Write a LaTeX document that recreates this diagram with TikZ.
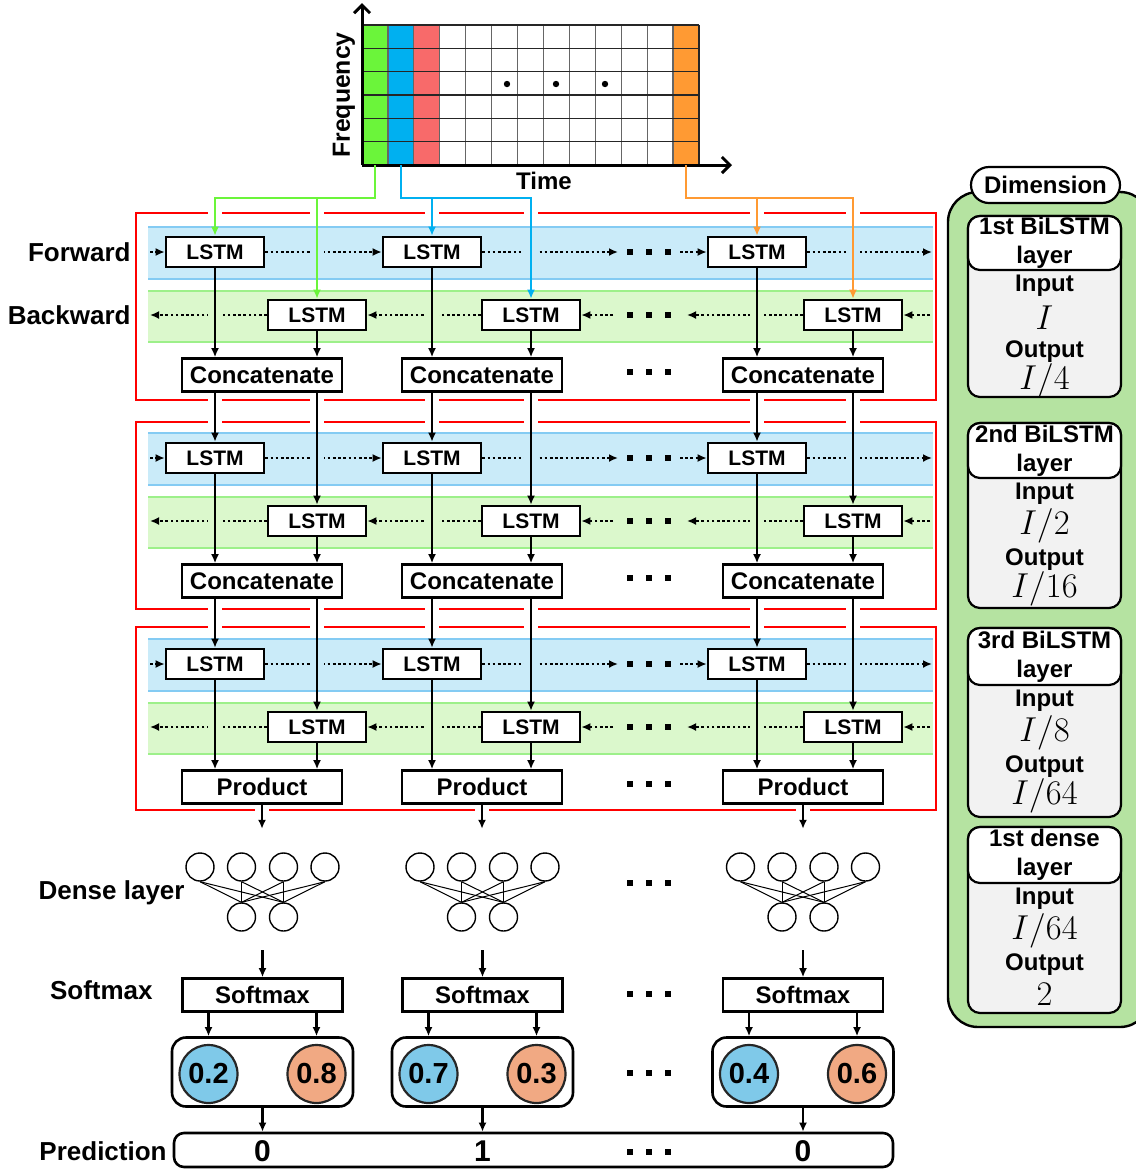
\documentclass[tikz,border=0pt]{standalone}
\usepackage[no-math]{fontspec}
\setmainfont{Liberation Sans}
\usetikzlibrary{arrows.meta,positioning,calc}
\definecolor{specgreen}{HTML}{6BF53A}
\definecolor{specblue}{HTML}{00B0F0}
\definecolor{specred}{HTML}{F86A6A}
\definecolor{specorange}{HTML}{FF9A33}
\definecolor{fwfill}{HTML}{CAEBF9}
\definecolor{fwline}{HTML}{84CBF3}
\definecolor{bwfill}{HTML}{DBF8CC}
\definecolor{bwline}{HTML}{9DF08A}
\definecolor{layerred}{HTML}{FF0000}
\definecolor{probblue}{HTML}{7FC9E9}
\definecolor{proborange}{HTML}{F1A983}
\definecolor{dimgreen}{HTML}{B5E3A1}
\definecolor{dimgray}{HTML}{F2F2F2}

% three black squares used as ellipsis
\newcommand{\blkdots}[1]{\foreach \dx in {630,649,668}{\fill (\dx-3,#1-3) rectangle (\dx+3,#1+3);}}

\begin{document}
\begin{tikzpicture}[
    x=0.5pt, y=-0.5pt,
    lstm/.style={draw, line width=1.3pt, fill=white, minimum width=49pt, minimum height=15pt,
      inner sep=0pt, font=\bfseries\fontsize{10.5}{12}\selectfont},
    opbox/.style={draw, line width=1.3pt, fill=white, minimum width=80pt, minimum height=16.5pt,
      inner sep=0pt, font=\bfseries\fontsize{12}{14}\selectfont},
    arr/.style={line width=1.1pt, -{Latex[length=4.5pt,width=4pt]}},
    dotarr/.style={line width=1.3pt, dash pattern=on 1.3pt off 1.3pt, -{Latex[length=4.5pt,width=4pt]}},
    feed/.style={line width=1.3pt, -{Latex[length=4.5pt,width=4pt]}},
    side/.style={anchor=east, inner sep=0pt, font=\bfseries\fontsize{13}{15}\selectfont},
    neuron/.style={circle, draw, line width=0.7pt, minimum size=14pt, inner sep=0pt},
    probbox/.style={draw, line width=1.3pt, rounded corners=7pt, minimum width=90.5pt, minimum height=34.5pt},
    prob/.style={circle, draw=black!85, line width=1.1pt, minimum size=29pt, inner sep=0pt,
      font=\bfseries\fontsize{14.5}{16}\selectfont},
    bigtxt/.style={font=\bfseries\fontsize{15}{17}\selectfont, inner sep=0pt},
    panelhead/.style={align=center, inner sep=0pt, font=\bfseries\fontsize{12}{14.5}\selectfont},
    paneltxt/.style={inner sep=0pt, font=\bfseries\fontsize{12}{14}\selectfont},
    panelmath/.style={inner sep=0pt, font=\fontsize{17}{20}\selectfont},
  ]
  \useasboundingbox (0,0) rectangle (1136,1169);

  % BiLSTM layers
  \draw[layerred, line width=1.3pt] (136,213) rectangle (936,400);
  \draw[layerred, line width=1.3pt] (136,422) rectangle (936,609);
  \draw[layerred, line width=1.3pt] (136,627) rectangle (936,810);
  \foreach \o in {0,206,412} {
    \fill[fwfill] (148,227+\o) rectangle (933,279+\o);
    \draw[fwline, line width=1.3pt] (148,227+\o) -- (933,227+\o) (148,279+\o) -- (933,279+\o);
    \fill[bwfill] (148,291+\o) rectangle (933,342+\o);
    \draw[bwline, line width=1.3pt] (148,291+\o) -- (933,291+\o) (148,342+\o) -- (933,342+\o);
  }

  % spectrogram
  \foreach \i/\col in {0/specgreen,1/specblue,2/specred,12/specorange}
    \fill[\col] (362+\i*25.92,25) rectangle (362+\i*25.92+25.92,165);
  \foreach \i in {1,...,12}
    \draw[black!60, line width=0.6pt] (362+\i*25.92,25) -- (362+\i*25.92,165);
  \foreach \j in {0,...,5}
    \draw[black!85, line width=0.6pt] (362,25+\j*23.33) -- (699,25+\j*23.33);
  \draw[black!85, line width=0.6pt] (699,25) -- (699,165);
  \foreach \xx in {507,556,605} \fill (\xx,84) circle (1.6pt);
  \coordinate (orig) at (362,165);
  \coordinate (fqtop) at (362,3);
  \coordinate (tend) at (732,165);
  \draw[line width=1.5pt, -{Straight Barb[length=4pt,width=8pt]}] (orig) -- (fqtop);
  \draw[line width=1.5pt, -{Straight Barb[length=4pt,width=8pt]}] (orig) -- (tend);
  \node[rotate=90, inner sep=0pt, font=\bfseries\fontsize{12.4}{14}\selectfont] (freq) at (344,95) {Frequency};
  \node[inner sep=0pt, font=\bfseries\fontsize{12}{14}\selectfont] (timelbl) at (544,181) {Time};

  % LSTM cells and merge boxes
  \foreach \l/\o/\op in {1/0/Concatenate,2/206/Concatenate,3/412/Product} {
    \foreach \c/\xf/\xb/\xm in {a/215/317/262, b/432/531/482, c/757/853/803} {
      \node[lstm] (fw\l\c) at (\xf,252+\o) {LSTM};
      \node[lstm] (bw\l\c) at (\xb,315+\o) {LSTM};
      \node[opbox] (op\l\c) at (\xm,375+\o) {\op};
    }
  }
  \node[side] (lblfw) at (131,252) {Forward};
  \node[side] (lblbw) at (131,315) {Backward};

  % recurrent connections
  \foreach \l/\o in {1/0,2/206,3/412} {
    \coordinate (fin\l) at (150,252+\o);
    \coordinate (fdl\l) at (618,252+\o);
    \coordinate (fdr\l) at (680,252+\o);
    \coordinate (fout\l) at (932,252+\o);
    \draw[dotarr] (fin\l) -- (fw\l a.west);
    \draw[dotarr] (fw\l a.east) -- (fw\l b.west);
    \draw[dotarr] (fw\l b.east) -- (fdl\l);
    \draw[dotarr] (fdr\l) -- (fw\l c.west);
    \draw[dotarr] (fw\l c.east) -- (fout\l);
    \coordinate (bin\l) at (930,315+\o);
    \coordinate (bdr\l) at (687,315+\o);
    \coordinate (bdl\l) at (613,315+\o);
    \coordinate (bout\l) at (150,315+\o);
    \draw[dotarr] (bin\l) -- (bw\l c.east);
    \draw[dotarr] (bw\l c.west) -- (bdr\l);
    \draw[dotarr] (bdl\l) -- (bw\l b.east);
    \draw[dotarr] (bw\l b.west) -- (bw\l a.east);
    \draw[dotarr] (bw\l a.west) -- (bout\l);
    \blkdots{252+\o}
    \blkdots{315+\o}
    \blkdots{372+\o}
    % gaps where the vertical lines cross
    \foreach \x in {317,531,853} \fill[fwfill] (\x-7,247+\o) rectangle (\x+7,257+\o);
    \foreach \x in {215,432,757} \fill[bwfill] (\x-7,310+\o) rectangle (\x+7,320+\o);
  }
  \foreach \y in {213,400,422,609,627}
    \foreach \x in {215,317,432,531,757,853}
      \fill[white] (\x-7,\y-3) rectangle (\x+7,\y+3);
  \foreach \x in {262,482,803} \fill[white] (\x-7,807) rectangle (\x+7,813);

  % vertical data flow
  \foreach \l in {1,2,3}
    \foreach \c in {a,b,c} {
      \draw[arr] (fw\l\c.south) -- (fw\l\c.south |- op\l\c.north);
      \draw[arr] (bw\l\c.south) -- (bw\l\c.south |- op\l\c.north);
    }
  \foreach \l/\n in {1/2,2/3}
    \foreach \c in {a,b,c} {
      \draw[arr] (fw\n\c.north |- op\l\c.south) -- (fw\n\c.north);
      \draw[arr] (bw\n\c.north |- op\l\c.south) -- (bw\n\c.north);
    }

  % frames fed into the first layer
  \coordinate (gcol) at (375,165);
  \coordinate (gbend) at (375,198);
  \coordinate (bcol) at (401,165);
  \coordinate (bbend) at (401,198);
  \coordinate (ocol) at (686,165);
  \coordinate (obend) at (686,198);
  \draw[feed, specgreen] (gcol) -- (gbend) -| (fw1a.north);
  \draw[feed, specgreen] (gbend -| bw1a.north) -- (bw1a.north);
  \draw[feed, specblue] (bcol) -- (bbend) -| (bw1b.north);
  \draw[feed, specblue] (bbend -| fw1b.north) -- (fw1b.north);
  \draw[feed, specorange] (ocol) -- (obend) -| (bw1c.north);
  \draw[feed, specorange] (obend -| fw1c.north) -- (fw1c.north);

  % dense, softmax and prediction
  \node[draw, line width=1.3pt, rounded corners=5pt, minimum width=359.5pt, minimum height=17pt] (pred) at (533.5,1150) {};
  \foreach \c/\xm/\pa/\pb/\pv in {a/262.5/0.2/0.8/0, b/482.5/0.7/0.3/1, c/803/0.4/0.6/0} {
    \coordinate (din\c) at ($(op3\c.south)+(0,24)$);
    \draw[arr] (op3\c.south) -- (din\c);
    \foreach \k/\dx in {1/-62.5,2/-21,3/21,4/62.5}
      \node[neuron] (nt\c\k) at (\xm+\dx,867) {};
    \node[neuron] (nb\c1) at (\xm-21,917) {};
    \node[neuron] (nb\c2) at (\xm+21,917) {};
    \foreach \k in {1,...,4}
      \foreach \m in {1,2}
        \draw[line width=0.5pt] (nt\c\k.south) -- (nb\c\m.north);
    \coordinate (dout\c) at (\xm,950);
    \node[opbox] (sm\c) at (\xm,995) {Softmax};
    \draw[arr] (dout\c) -- (sm\c.north);
    \node[probbox] (pb\c) at (\xm,1072) {};
    \node[prob, fill=probblue] (pl\c) at (\xm-54,1074) {\pa};
    \node[prob, fill=proborange] (pr\c) at (\xm+54,1074) {\pb};
    \draw[arr] (pl\c |- sm\c.south) -- (pl\c |- pb\c.north);
    \draw[arr] (pr\c |- sm\c.south) -- (pr\c |- pb\c.north);
    \draw[arr] (pb\c.south) -- (pb\c.south |- pred.north);
    \node[bigtxt] (pv\c) at (\xm,1151) {\pv};
  }
  \blkdots{883}
  \blkdots{994}
  \blkdots{1073}
  \blkdots{1152}
  \node[side] (lbldense) at (185,893) {Dense layer};
  \node[side] (lblsm) at (153,990) {Softmax};
  \node[side] (lblpred) at (167,1151) {Prediction};

  % dimension panel
  \draw[line width=1.2pt, fill=dimgreen, rounded corners=15pt] (948,192) rectangle (1150,1027);
  \node[draw, fill=white, line width=1.1pt, rounded corners=9pt, minimum width=74.5pt, minimum height=18pt,
    inner sep=0pt, font=\bfseries\fontsize{12}{14}\selectfont] (dimhead) at (1045.5,185) {Dimension};
  \foreach \i/\yt/\hb/\yb/\na/\vin/\vout in {
      1/216/270/397/{1st BiLSTM}/{$I$}/{$I/4$},
      2/423/478/608/{2nd BiLSTM}/{$I/2$}/{$I/16$},
      3/628/685/817/{3rd BiLSTM}/{$I/8$}/{$I/64$},
      4/827/883/1013/{1st dense}/{$I/64$}/{$2$}} {
    \draw[line width=1.1pt, fill=dimgray, rounded corners=6pt] (968,\yt) rectangle (1121,\yb);
    \draw[line width=1.1pt, fill=white, rounded corners=6pt] (968,\yt) rectangle (1121,\hb);
    \node[panelhead] (hd\i) at (1044.5,{(\yt+\hb)/2}) {\na\\layer};
    \node[paneltxt] (inl\i) at (1044.5,\hb+16) {Input};
    \node[panelmath] (inv\i) at (1044.5,\hb+48) {\vin};
    \node[paneltxt] (outl\i) at (1044.5,\hb+82) {Output};
    \node[panelmath] (outv\i) at (1044.5,\hb+111) {\vout};
  }
\end{tikzpicture}
\end{document}
